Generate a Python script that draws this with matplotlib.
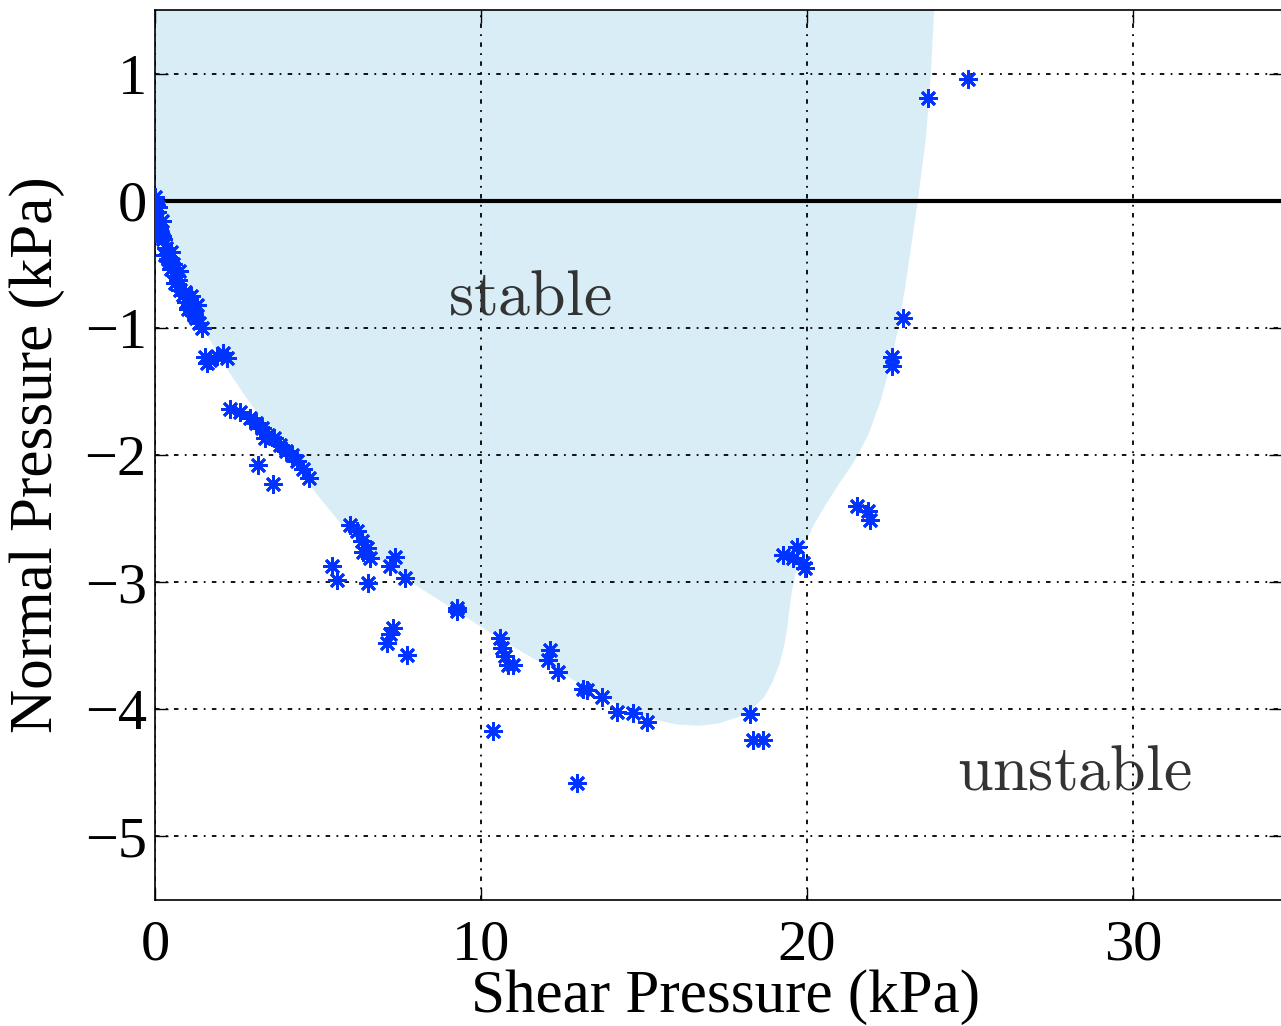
import matplotlib
matplotlib.use("Agg")
import matplotlib.pyplot as plt
from matplotlib.patches import Polygon

# ---- data ----
shear = [
    0.0, 0.02, 0.05, 0.03, 0.10, 0.15, 0.25, 0.35, 0.30, 0.45, 0.50, 0.65, 0.60,
    0.78, 0.85, 0.95, 1.07, 1.17, 1.26, 1.35, 1.44, 0.92, 0.70, 0.40, 0.55, 0.20,
    1.00, 1.20, 0.08, 0.12, 0.22, 0.48, 0.75, 1.10, 1.30,
    1.53, 1.70, 1.90, 2.10, 2.20, 1.60,
    2.30, 2.61, 2.91, 3.10, 3.28, 3.47, 3.65, 3.83, 4.02, 4.20, 4.36, 4.54, 4.72,
    3.16, 3.62, 3.37,
    5.98, 6.20, 6.35, 6.38, 6.60, 6.50, 5.43, 5.58, 6.53, 7.20, 7.36, 7.67,
    9.26, 9.26, 7.30, 7.20, 7.12, 7.73,
    10.58, 10.64, 10.74, 10.83, 10.98, 12.12, 12.06, 12.36, 13.13, 13.25, 13.71,
    14.17, 14.66, 15.09, 10.37, 12.94,
    21.53, 21.87, 21.93, 19.26, 19.69, 19.57, 19.88, 19.94,
    18.25, 18.34, 18.65,
    24.94, 23.71, 22.94, 22.60, 22.60,
]
normal = [
    0.03, -0.03, -0.09, -0.15, -0.20, -0.25, -0.30, -0.37, -0.43, -0.48, -0.54, -0.59, -0.65,
    -0.70, -0.74, -0.80, -0.83, -0.87, -0.92, -0.96, -1.00, -0.72, -0.62, -0.46, -0.50, -0.28,
    -0.85, -0.90, -0.05, -0.22, -0.16, -0.40, -0.55, -0.75, -0.82,
    -1.23, -1.25, -1.22, -1.20, -1.24, -1.28,
    -1.64, -1.66, -1.71, -1.75, -1.79, -1.84, -1.87, -1.92, -1.97, -2.00, -2.05, -2.11, -2.18,
    -2.08, -2.23, -1.87,
    -2.55, -2.60, -2.68, -2.76, -2.81, -2.73, -2.87, -2.98, -3.01, -2.87, -2.80, -2.97,
    -3.20, -3.23, -3.36, -3.41, -3.48, -3.57,
    -3.44, -3.52, -3.58, -3.65, -3.65, -3.53, -3.61, -3.71, -3.84, -3.85, -3.90,
    -4.02, -4.03, -4.10, -4.17, -4.58,
    -2.40, -2.44, -2.51, -2.79, -2.72, -2.81, -2.85, -2.89,
    -4.04, -4.24, -4.24,
    0.96, 0.81, -0.92, -1.23, -1.30,
]

# stable-region boundary (shear, normal)
region_shear = [0.0, 23.9, 23.8, 23.65, 23.4, 23.2, 23.0, 22.8, 22.55, 22.25, 21.9,
                21.45, 21.0, 20.6, 20.25, 20.0, 19.8, 19.65, 19.55, 19.47, 19.4,
                19.3, 19.15, 18.95, 18.7, 18.35, 17.9, 17.3, 16.7, 16.0, 15.3,
                14.7, 14.1, 13.5, 12.9, 12.3, 11.6, 10.8, 10.0, 9.2, 8.4, 7.5,
                6.6, 5.8, 5.06, 4.3, 3.5, 2.8, 2.2, 1.47, 1.0, 0.5, 0.0]
region_normal = [1.5, 1.5, 1.0, 0.5, 0.0, -0.35, -0.7, -1.0, -1.3, -1.58, -1.83,
                 -2.05, -2.22, -2.38, -2.53, -2.66, -2.8, -2.93, -3.05, -3.2, -3.35,
                 -3.5, -3.65, -3.78, -3.9, -3.99, -4.06, -4.11, -4.13, -4.12, -4.08,
                 -4.02, -3.95, -3.87, -3.78, -3.69, -3.6, -3.48, -3.35, -3.22, -3.09,
                 -2.94, -2.77, -2.57, -2.34, -2.08, -1.8, -1.55, -1.32, -1.0, -0.68,
                 -0.34, 0.0]

xticks = [0, 10, 20, 30]
yticks = [-5, -4, -3, -2, -1, 0, 1]

# ---- figure ----
plt.rcParams['font.family'] = ['Liberation Serif', 'DejaVu Serif']
plt.rcParams['mathtext.fontset'] = 'cm'

fig = plt.figure(figsize=(12.81, 10.26), dpi=100)
W, H = 1281, 1026
ax = fig.add_axes([155 / W, 1 - 900 / H, (1281 - 155) / W, 890 / H])

ax.add_patch(Polygon(list(zip(region_shear, region_normal)), closed=True,
                     facecolor='#d9edf6', edgecolor='none', zorder=0))

ax.axhline(0, color='black', lw=3.0, zorder=2)
ax.plot(shear, normal, linestyle='none', marker=(8, 2, 0), markersize=13,
        markeredgewidth=2.0, color='#0033ff', zorder=3)

ax.text(11.5, -0.78, r'$\mathrm{stable}$', fontsize=46, color='#333333',
        ha='center', va='center', zorder=4)
ax.text(28.2, -4.51, r'$\mathrm{unstable}$', fontsize=46, color='#333333',
        ha='center', va='center', zorder=4)

ax.set_xlim(0, (1281 - 155) / 32.6)
ax.set_ylim(-5.5, 1.5)
ax.set_xticks(xticks)
ax.set_yticks(yticks)
ax.grid(True, color='black', linestyle=(0, (2.5, 3.5, 1, 3.5)), linewidth=1.3, zorder=1)
ax.set_axisbelow(False)
for gl in ax.get_xgridlines() + ax.get_ygridlines():
    gl.set_zorder(1)

ax.tick_params(direction='in', length=9, width=1, top=True, right=True,
               labelsize=42)
ax.tick_params(axis='x', pad=14)
ax.tick_params(axis='y', pad=6)
for s in ax.spines.values():
    s.set_linewidth(1.2)
ax.spines['right'].set_visible(False)

ax.set_xlabel('Shear Pressure (kPa)', fontsize=44)
ax.set_ylabel('Normal Pressure (kPa)', fontsize=44)
ax.xaxis.set_label_coords(0.507, (900 - 997) / 890)
ax.xaxis.label.set_va('center')
ax.yaxis.set_label_coords((37 - 155) / 1126, 0.5)
ax.yaxis.label.set_va('center')

fig.savefig('out.png', dpi=100)
